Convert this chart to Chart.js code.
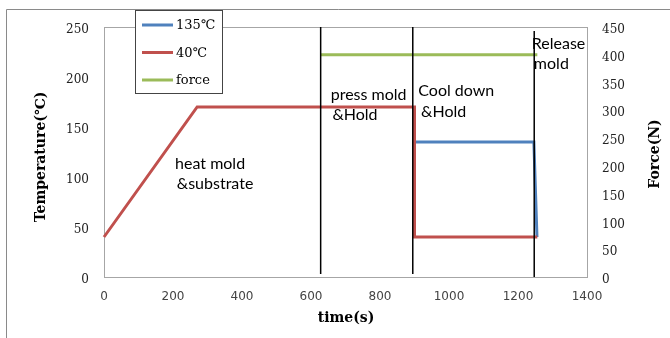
<!DOCTYPE html>
<html>
<head>
<meta charset="utf-8">
<script src="https://cdn.jsdelivr.net/npm/chart.js@4.4.1/dist/chart.umd.min.js"></script>
<style>
  html, body { margin: 0; padding: 0; background: #fff; }
  #wrap { width: 670px; height: 338px; }
</style>
</head>
<body>
<div id="wrap"><canvas id="chart" width="670" height="338"></canvas></div>
<script>
// temperature curves (time in s, temperature in ℃)
const hotTime = [900, 1246, 1255];
const hotTemp = [135, 135, 40];
const coldTime = [0, 270, 900, 900, 1256];
const coldTemp = [40, 170, 170, 40, 40];
// force curve (N, right axis)
const forceTime = [628, 1256];
const forceVal = [400, 400];
// stage separators
const stageTime = [628, 895, 1247];
const stageTop = [250, 250, 246];
const stageBottom = [3, 3, 0];
// stage notes, placed in data units
const noteText = ['heat mold', '&substrate', 'press mold', '&Hold', 'Cool down', '&Hold', 'Release', 'mold'];
const noteTime = [206, 211, 657, 662, 911, 919, 1240, 1246];
const noteTemp = [108, 88, 177, 157, 181, 160, 228, 208];

const seriesNames = ['135℃', '40℃', 'force'];
const seriesColors = ['#4f81bd', '#c0504d', '#9bbb59'];

const pts = (xs, ys) => xs.map((x, i) => ({ x: x, y: ys[i] }));

const datasets = stageTime.map((t, i) => ({
  data: [{ x: t, y: stageTop[i] }, { x: t, y: stageBottom[i] }],
  borderColor: '#000',
  borderWidth: 1.5,
  order: 0
}));
datasets.push(
  { label: seriesNames[0], data: pts(hotTime, hotTemp), borderColor: seriesColors[0], borderWidth: 3, order: 2 },
  { label: seriesNames[1], data: pts(coldTime, coldTemp), borderColor: seriesColors[1], borderWidth: 3, order: 1 },
  { label: seriesNames[2], data: pts(forceTime, forceVal), borderColor: seriesColors[2], borderWidth: 3, order: 3, yAxisID: 'y1' }
);
datasets.forEach(d => { d.pointRadius = 0; d.tension = 0; d.fill = false; d.clip = false; });

const decor = {
  id: 'decor',
  beforeDatasetsDraw(chart) {
    const { ctx, chartArea: a } = chart;
    ctx.save();
    // outer frame
    ctx.strokeStyle = '#8a8a8a';
    ctx.lineWidth = 1;
    ctx.beginPath();
    ctx.moveTo(6.5, 338);
    ctx.lineTo(6.5, 9.5);
    ctx.lineTo(670, 9.5);
    ctx.stroke();
    // plot border
    ctx.strokeStyle = '#a6a6a6';
    ctx.strokeRect(Math.round(a.left) + 0.5, Math.round(a.top) + 0.5, Math.round(a.width), Math.round(a.height));
    ctx.restore();
  },
  afterDraw(chart) {
    const { ctx } = chart;
    const xs = chart.scales.x, ys = chart.scales.y;
    ctx.save();
    // stage notes
    ctx.fillStyle = '#000';
    ctx.font = '16px Lato';
    ctx.textAlign = 'left';
    ctx.textBaseline = 'alphabetic';
    noteText.forEach((s, i) => {
      ctx.fillText(s, xs.getPixelForValue(noteTime[i]), ys.getPixelForValue(noteTemp[i]));
    });

    // axis titles
    ctx.font = 'bold 14px "DejaVu Serif"';
    ctx.textAlign = 'center';
    ctx.textBaseline = 'middle';
    ctx.fillText('time(s)', 346, 318);
    ctx.save();
    ctx.translate(41, 157);
    ctx.rotate(-Math.PI / 2);
    ctx.fillText('Temperature(℃)', 0, 0);
    ctx.restore();
    ctx.save();
    ctx.translate(655, 154);
    ctx.rotate(-Math.PI / 2);
    ctx.fillText('Force(N)', 0, 0);
    ctx.restore();

    // legend
    ctx.fillStyle = '#fff';
    ctx.fillRect(135.5, 10.5, 87, 83);
    ctx.strokeStyle = '#444';
    ctx.lineWidth = 1;
    ctx.strokeRect(135.5, 10.5, 87, 83);
    ctx.font = '13px "DejaVu Serif"';
    ctx.textAlign = 'left';
    ctx.textBaseline = 'middle';
    seriesNames.forEach((name, i) => {
      const y = 25 + i * 27.5;
      ctx.strokeStyle = seriesColors[i];
      ctx.lineWidth = 3;
      ctx.beginPath();
      ctx.moveTo(142, y);
      ctx.lineTo(173, y);
      ctx.stroke();
      ctx.fillStyle = '#000';
      ctx.fillText(name, 176, y + 1);
    });
    ctx.restore();
  }
};

new Chart(document.getElementById('chart'), {
  type: 'line',
  data: { datasets: datasets },
  options: {
    responsive: false,
    animation: false,
    layout: { padding: { top: 27, left: 0, right: 0, bottom: 0 } },
    plugins: { legend: { display: false }, tooltip: { enabled: false } },
    scales: {
      x: {
        type: 'linear',
        min: 0, max: 1400,
        grid: { display: false, drawTicks: false },
        border: { display: false },
        ticks: { stepSize: 200, padding: 13, color: '#444', font: { family: 'DejaVu Sans', size: 12 }, maxRotation: 0, callback: v => String(v) },
        afterFit(scale) { scale.height = 61; }
      },
      y: {
        position: 'left',
        min: 0, max: 250,
        grid: { display: false, drawTicks: false },
        border: { display: false },
        ticks: { stepSize: 50, padding: 15, labelOffset: 3, color: '#222', font: { family: 'DejaVu Serif', size: 12 } },
        afterFit(scale) { scale.width = 104; }
      },
      y1: {
        position: 'right',
        min: 0, max: 450,
        grid: { display: false, drawTicks: false },
        border: { display: false },
        ticks: { stepSize: 50, padding: 15, labelOffset: 3, color: '#222', font: { family: 'DejaVu Serif', size: 12 } },
        afterFit(scale) { scale.width = 83; }
      }
    }
  },
  plugins: [decor]
});
</script>
</body>
</html>
